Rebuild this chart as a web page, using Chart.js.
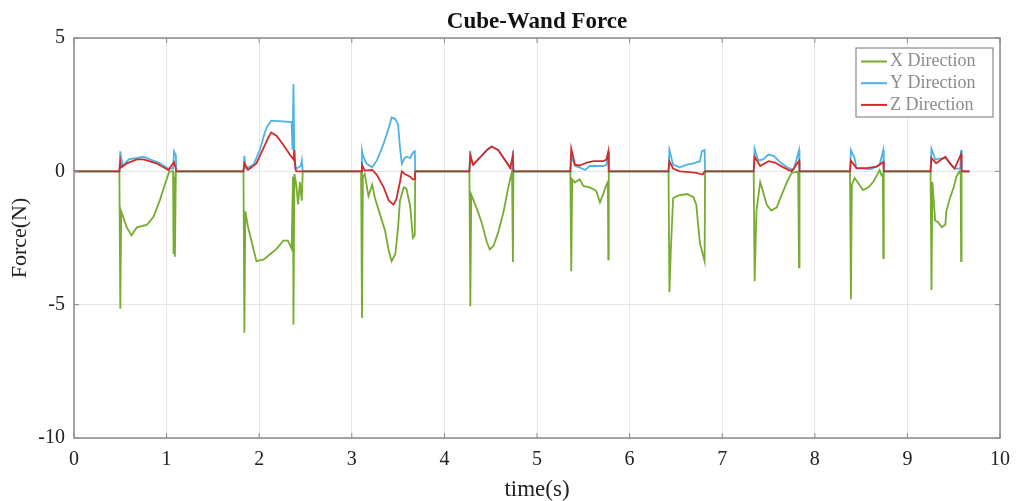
<!DOCTYPE html>
<html>
<head>
<meta charset="utf-8">
<script src="https://cdn.jsdelivr.net/npm/chart.js@4.4.1/dist/chart.umd.min.js"></script>
<style>
html,body{margin:0;padding:0;background:#fff;}
#wrap{width:1017px;height:501px;position:relative;}
</style>
</head>
<body>
<div id="wrap"><canvas id="c"></canvas></div>
<script>
const chartTitle = "Cube-Wand Force";
const xAxisTitle = "time(s)";
const yAxisTitle = "Force(N)";
const seriesLabels = ["X Direction", "Y Direction", "Z Direction"];
const xTicks = [0,1,2,3,4,5,6,7,8,9,10];
const yTicks = [5,0,-5,-10];

const timeX = [0,0.49,0.50,0.51,0.53,0.57,0.62,0.68,0.79,0.86,0.93,0.98,1.03,1.07,1.075,1.08,1.09,1.10,
 1.83,1.84,1.85,1.88,1.94,1.97,2.05,2.12,2.19,2.26,2.31,2.35,2.365,2.37,2.38,2.40,2.42,2.44,2.46,2.47,
 3.10,3.11,3.12,3.14,3.18,3.22,3.25,3.31,3.36,3.40,3.43,3.47,3.50,3.52,3.56,3.59,3.63,3.66,3.68,3.685,
 4.27,4.28,4.29,4.35,4.40,4.46,4.49,4.53,4.58,4.64,4.69,4.73,4.74,4.745,
 5.36,5.37,5.38,5.41,5.46,5.50,5.57,5.64,5.68,5.72,5.75,5.765,5.77,5.775,
 6.42,6.43,6.445,6.47,6.53,6.62,6.69,6.72,6.74,6.76,6.79,6.81,6.815,
 7.34,7.35,7.37,7.41,7.44,7.48,7.53,7.59,7.64,7.70,7.75,7.82,7.83,7.835,
 8.38,8.39,8.40,8.43,8.47,8.52,8.58,8.63,8.67,8.70,8.72,8.735,8.74,8.745,
 9.25,9.26,9.27,9.30,9.33,9.37,9.41,9.42,9.46,9.50,9.53,9.56,9.575,9.58,9.585,9.67];
const forceX = [0,0,-5.15,-1.5,-1.7,-2.1,-2.4,-2.1,-2.0,-1.7,-1.05,-0.5,0,0,-3.1,-0.2,-3.2,0,
 0,-6.05,-1.5,-2.1,-2.95,-3.37,-3.3,-3.1,-2.9,-2.6,-2.6,-2.9,-0.2,-5.75,-0.1,-0.5,-1.24,-0.4,-1.1,0,
 0,-5.5,-0.2,-0.1,-0.93,-0.5,-1.0,-1.68,-2.24,-3.0,-3.37,-3.1,-2.1,-1.1,-0.6,-0.65,-1.3,-2.5,-2.4,0,
 0,-5.06,-0.87,-1.4,-1.9,-2.67,-2.93,-2.8,-2.3,-1.5,-0.6,0,-3.4,0,
 0,-3.75,-0.3,-0.42,-0.3,-0.55,-0.6,-0.73,-1.17,-0.8,-0.5,-0.4,-3.3,0,
 0,-4.53,-3.0,-1.0,-0.9,-0.85,-0.97,-1.25,-2.0,-2.7,-3.1,-3.37,0,
 0,-4.12,-1.5,-0.4,-0.75,-1.25,-1.47,-1.35,-0.9,-0.4,-0.06,0,-3.6,0,
 0,-4.8,-0.5,-0.25,-0.45,-0.7,-0.6,-0.4,-0.15,0.05,-0.15,-0.1,-3.25,0,
 0,-4.45,-0.4,-1.85,-1.9,-2.1,-2.0,-1.5,-1.0,-0.6,-0.2,0,-0.1,-3.37,0,0];

const timeY = [0,0.49,0.50,0.51,0.53,0.59,0.68,0.75,0.82,0.93,1.02,1.07,1.08,1.10,1.105,
 1.83,1.84,1.85,1.86,1.94,2.01,2.05,2.08,2.13,2.21,2.35,2.36,2.37,2.38,2.40,2.45,2.46,2.47,
 3.10,3.11,3.12,3.16,3.22,3.27,3.34,3.40,3.43,3.47,3.50,3.52,3.54,3.57,3.59,3.63,3.66,3.68,3.685,
 4.27,4.28,4.29,4.31,4.38,4.46,4.51,4.58,4.64,4.71,4.73,4.74,4.745,
 5.36,5.37,5.41,5.46,5.52,5.57,5.64,5.72,5.75,5.77,5.775,
 6.42,6.43,6.47,6.54,6.62,6.69,6.76,6.78,6.81,6.815,
 7.34,7.35,7.39,7.44,7.50,7.56,7.63,7.70,7.77,7.83,7.835,
 8.38,8.39,8.43,8.45,8.52,8.61,8.70,8.74,8.745,
 9.25,9.26,9.30,9.35,9.41,9.46,9.51,9.57,9.58,9.585,9.67];
const forceY = [0,0,0.75,0.5,0.2,0.45,0.5,0.55,0.45,0.3,0.1,0.1,0.75,0.6,0,
 0,0.58,0.2,0.1,0.25,0.83,1.33,1.65,1.9,1.88,1.85,0.8,3.27,0.4,0.1,0.2,0.4,0,
 0,0.77,0.6,0.28,0.15,0.4,1.0,1.64,2.02,1.96,1.75,0.9,0.28,0.5,0.55,0.5,0.7,0.75,0,
 0,0.77,0.4,0.25,0.5,0.8,0.93,0.8,0.5,0.13,0.1,0.77,0,
 0,0.6,0.2,0.15,0.05,0.2,0.2,0.2,0.25,0.7,0,
 0,0.8,0.25,0.15,0.25,0.3,0.38,0.75,0.8,0,
 0,0.85,0.4,0.45,0.63,0.57,0.33,0.15,0.05,0.8,0,
 0,0.8,0.48,0.1,0.1,0.08,0.25,0.8,0,
 0,0.85,0.45,0.48,0.5,0.3,0.1,0.1,0.8,0,0];

const timeZ = [0,0.49,0.50,0.51,0.57,0.68,0.75,0.89,1.02,1.08,1.10,1.105,
 1.83,1.84,1.88,1.97,2.05,2.10,2.13,2.19,2.26,2.33,2.37,2.38,2.39,2.40,
 3.10,3.11,3.14,3.22,3.27,3.34,3.40,3.45,3.48,3.52,3.54,3.57,3.63,3.66,3.68,3.685,
 4.27,4.28,4.31,4.38,4.46,4.51,4.58,4.64,4.71,4.74,4.745,
 5.36,5.37,5.41,5.46,5.54,5.61,5.72,5.75,5.77,5.775,
 6.42,6.43,6.47,6.54,6.62,6.72,6.79,6.81,
 7.34,7.35,7.41,7.50,7.57,7.66,7.75,7.83,7.835,
 8.38,8.39,8.45,8.56,8.67,8.74,8.745,
 9.25,9.26,9.31,9.37,9.41,9.46,9.51,9.58,9.585,9.67];
const forceZ = [0,0,0.35,0.15,0.3,0.45,0.45,0.3,0.05,0.35,0.1,0,
 0,0.3,0.05,0.3,0.9,1.28,1.46,1.33,1.0,0.63,0.45,0.8,0.1,0,
 0,0.25,0.03,0.05,-0.13,-0.57,-1.1,-1.25,-1.05,-0.4,0,-0.1,-0.2,-0.3,-0.3,0,
 0,0.6,0.25,0.5,0.8,0.93,0.8,0.5,0.13,0.6,0,
 0,0.85,0.25,0.22,0.33,0.38,0.38,0.45,0.75,0,
 0,0.38,0.1,0,-0.02,-0.06,-0.12,0,
 0,0.55,0.2,0.38,0.33,0.15,0,0.4,0,
 0,0.4,0.12,0.12,0.18,0.35,0,
 0,0.5,0.3,0.45,0.55,0.3,0.1,0.65,0,0];

const colors = ["#77AC30", "#4DB3E6", "#D22B2B"];
const serif = "'Liberation Serif','Times New Roman',serif";

function pts(t, f){ return t.map((v,i)=>({x:v, y:f[i]})); }

const frame = {
  id:'frame',
  afterDraw(chart){
    const ctx = chart.ctx, a = chart.chartArea;
    ctx.save();
    ctx.strokeStyle = '#8a8a8a';
    ctx.lineWidth = 1.5;
    ctx.strokeRect(a.left, a.top, a.right-a.left, a.bottom-a.top);
    ctx.lineWidth = 1;
    const xs = chart.scales.x, ys = chart.scales.y;
    xTicks.forEach(v=>{
      const px = xs.getPixelForValue(v);
      ctx.beginPath(); ctx.moveTo(px, a.bottom); ctx.lineTo(px, a.bottom-5); ctx.stroke();
      ctx.beginPath(); ctx.moveTo(px, a.top); ctx.lineTo(px, a.top+5); ctx.stroke();
    });
    yTicks.forEach(v=>{
      const py = ys.getPixelForValue(v);
      ctx.beginPath(); ctx.moveTo(a.left, py); ctx.lineTo(a.left+5, py); ctx.stroke();
      ctx.beginPath(); ctx.moveTo(a.right, py); ctx.lineTo(a.right-5, py); ctx.stroke();
    });
    // title
    ctx.fillStyle = '#111';
    ctx.font = 'bold 23px ' + serif;
    ctx.textAlign = 'center';
    ctx.textBaseline = 'middle';
    ctx.fillText(chartTitle, (a.left+a.right)/2, 22);
    // legend
    const lx = 856, ly = 48, lw = 137, lh = 69;
    ctx.fillStyle = '#fff';
    ctx.fillRect(lx, ly, lw, lh);
    ctx.strokeStyle = '#8a8a8a';
    ctx.lineWidth = 1.2;
    ctx.strokeRect(lx, ly, lw, lh);
    ctx.font = '18px ' + serif;
    ctx.textAlign = 'left';
    seriesLabels.forEach((lab,i)=>{
      const yy = ly + 13.5 + i*21.7;
      ctx.strokeStyle = colors[i];
      ctx.lineWidth = 2;
      ctx.beginPath(); ctx.moveTo(lx+5, yy); ctx.lineTo(lx+31, yy); ctx.stroke();
      ctx.fillStyle = '#8c8c8c';
      ctx.fillText(lab, lx+34, yy);
    });
    ctx.restore();
  }
};

new Chart(document.getElementById('c'), {
  type: 'line',
  data: {
    datasets: [
      {label: seriesLabels[0], data: pts(timeX, forceX), borderColor: colors[0], order: 3},
      {label: seriesLabels[1], data: pts(timeY, forceY), borderColor: colors[1], order: 2},
      {label: seriesLabels[2], data: pts(timeZ, forceZ), borderColor: colors[2], order: 1}
    ]
  },
  options: {
    responsive: true,
    maintainAspectRatio: false,
    animation: false,
    events: [],
    layout: {padding: {top: 38, right: 17, left: 0, bottom: 0}},
    elements: {
      point: {radius: 0},
      line: {borderWidth: 1.8, tension: 0, fill: false}
    },
    plugins: {legend: {display: false}, title: {display: false}, tooltip: {enabled: false}},
    scales: {
      x: {
        type: 'linear', min: 0, max: 10,
        afterBuildTicks(s){ s.ticks = xTicks.map(v=>({value:v})); },
        afterFit(s){ s.height = 63; s.paddingRight = 0; s.paddingLeft = 0; },
        ticks: {color: '#222', font: {family: serif, size: 20}, padding: 10},
        grid: {color: '#e6e6e6', drawTicks: false},
        border: {display: false},
        title: {display: true, text: xAxisTitle, color: '#222', font: {family: serif, size: 23, lineHeight: 1}, padding: {top: 0, bottom: 0}}
      },
      y: {
        type: 'linear', min: -10, max: 5,
        afterBuildTicks(s){ s.ticks = yTicks.map(v=>({value:v})); },
        afterFit(s){ s.width = 74; s.paddingTop = 0; s.paddingBottom = 0; },
        ticks: {color: '#222', font: {family: serif, size: 20}, padding: 9},
        grid: {color: '#e6e6e6', drawTicks: false},
        border: {display: false},
        title: {display: true, text: yAxisTitle, color: '#222', font: {family: serif, size: 22, lineHeight: 1}, padding: {top: 9, bottom: 0}}
      }
    }
  },
  plugins: [frame]
});
</script>
</body>
</html>
